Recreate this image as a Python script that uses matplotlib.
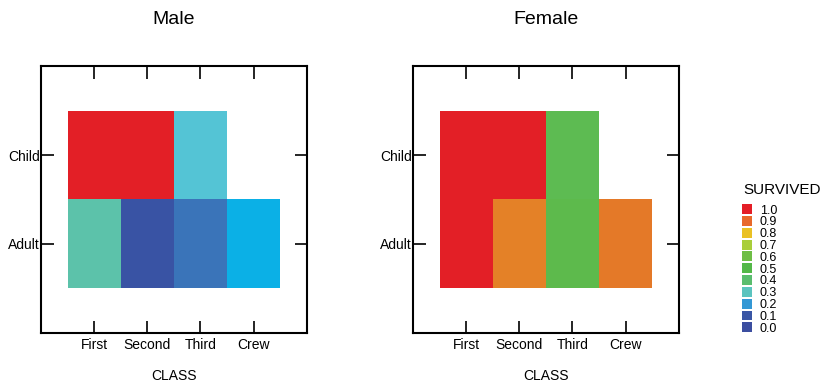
import numpy as np
import matplotlib
matplotlib.use('Agg')
import matplotlib.pyplot as plt
from matplotlib.colors import LinearSegmentedColormap
from matplotlib.patches import Patch

plt.rcParams['font.family'] = ['Liberation Sans', 'DejaVu Sans']

classes = ['First', 'Second', 'Third', 'Crew']
ages = ['Adult', 'Child']

# survival rate per class (nan = no passengers in that cell)
male_adult = [0.33, 0.08, 0.16, 0.22]
male_child = [1.0, 1.0, 0.27, np.nan]
female_adult = [0.97, 0.86, 0.46, 0.87]
female_child = [1.0, 1.0, 0.45, np.nan]

legend_levels = [1.0, 0.9, 0.8, 0.7, 0.6, 0.5, 0.4, 0.3, 0.2, 0.1, 0.0]
legend_colors = ['#E41E26', '#E8692B', '#EAC124', '#A9CE3A', '#6EBE45', '#53B848',
                 '#5ABD6E', '#5BC4BF', '#3398D5', '#3A56A5', '#3C4EA0']

# colour ramp
cmap_nodes = [(0.0, '#3C4EA0'), (0.08, '#3953A4'), (0.16, '#3A75BA'), (0.22, '#0BB0E6'),
              (0.27, '#54C4D5'), (0.33, '#5CC2AA'), (0.46, '#5DBA4B'), (0.6, '#6EBE45'),
              (0.7, '#A9CE3A'), (0.8, '#EAC124'), (0.86, '#E48427'), (0.87, '#E47A28'),
              (0.93, '#E31F26'), (1.0, '#E31F26')]
cmap = LinearSegmentedColormap.from_list('surv', cmap_nodes)

fig = plt.figure(figsize=(8.28, 3.84), dpi=100)
panels = [('Male', male_adult, male_child, 0.0495),
          ('Female', female_adult, female_child, 0.4988)]

xe = np.arange(len(classes) + 1) + 0.5
ye = np.arange(len(ages) + 1) + 0.5
for title, adult, child, left in panels:
    ax = fig.add_axes([left, 0.133, 0.321, 0.695])
    z = np.ma.masked_invalid(np.array([adult, child]))
    ax.pcolormesh(xe, ye, z, cmap=cmap, vmin=0, vmax=1)
    ax.set_xlim(0, 5)
    ax.set_ylim(0, 3)
    ax.set_xticks(range(1, 5))
    ax.set_xticklabels(classes, fontsize=10)
    ax.set_yticks([1, 2])
    ax.set_yticklabels(ages, fontsize=10)
    ax.tick_params(axis='x', direction='in', length=9, width=1.2, top=True, pad=4)
    ax.tick_params(axis='y', direction='in', length=9, width=1.2, right=True, pad=1)
    for s in ax.spines.values():
        s.set_linewidth(1.5)
    ax.set_xlabel('CLASS', fontsize=10, labelpad=12)
    ax.set_title(title, fontsize=14, pad=30)

fig.text(0.945, 0.505, 'SURVIVED', fontsize=11, ha='center', va='center')
handles = [Patch(facecolor=c, edgecolor='none') for c in legend_colors]
labels = ['%.1f' % v for v in legend_levels]
leg = fig.legend(handles, labels, loc='upper left',
                 bbox_to_anchor=(0.885, 0.491), frameon=False, fontsize=9,
                 handlelength=0.85, handleheight=0.85,
                 labelspacing=-0.04, handletextpad=0.6, borderpad=0.2)

fig.savefig('out.png', dpi=100)
